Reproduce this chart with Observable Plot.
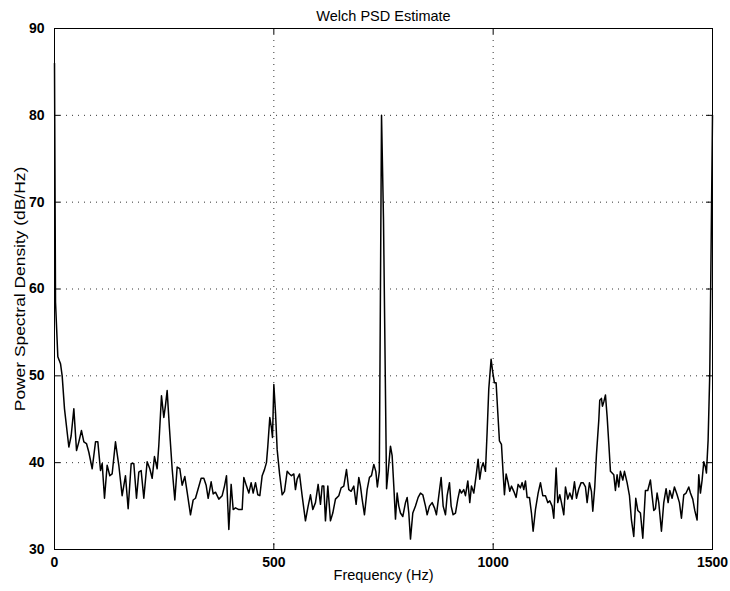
<!DOCTYPE html>
<html><head><meta charset="utf-8">
<script src="https://cdn.jsdelivr.net/npm/d3@7"></script>
<script src="https://cdn.jsdelivr.net/npm/@observablehq/plot@0.6"></script>
<style>body{margin:0;background:#fff} svg{display:block}</style>
</head><body><div id="chart"></div>
<script>
const title = "Welch PSD Estimate";
const xLabel = "Frequency (Hz)";
const yLabel = "Power Spectral Density (dB/Hz)";
const xTicks = [0, 500, 1000, 1500];
const yTicks = [30, 40, 50, 60, 70, 80, 90];

const freqs = [
0, 2.3, 7.6, 13.7, 17.5, 22.8, 32.7, 38.0, 44.1, 50.2, 55.5, 61.5, 66.9, 72.9, 78.3, 85.9, 93.5, 98.8,
104.9, 108.7, 114.0, 120.0, 126.1, 131.4, 139.0, 146.6, 154.2, 161.8, 167.9, 174.8, 180.8, 186.9, 192.2, 197.5,
203.6, 211.2, 217.3, 222.6, 227.9, 234.0, 237.8, 243.9, 249.2, 253.0, 256.8, 262.1, 268.2, 274.3, 279.6, 285.7,
291.0, 297.1, 302.4, 310.0, 316.1, 321.4, 327.5, 334.3, 340.4, 345.7, 350.3, 357.1, 361.7, 367.0, 374.6, 382.2,
387.5, 392.1, 397.4, 402.7, 407.3, 412.6, 420.2, 427.8, 431.6, 437.7, 443.0, 448.3, 452.9, 458.2, 463.5, 468.1,
473.4, 478.7, 483.2, 486.3, 490.8, 494.6, 496.9, 500.0, 503.8, 507.6, 512.9, 519.0, 524.3, 530.4, 535.7, 540.2,
545.6, 549.3, 553.1, 558.5, 564.5, 572.1, 578.2, 583.5, 588.9, 594.9, 601.0, 606.3, 610.1, 613.9, 617.7, 623.1,
629.1, 634.4, 640.5, 648.1, 653.4, 659.5, 665.6, 670.9, 676.2, 682.3, 687.6, 693.7, 697.5, 701.3, 706.6, 712.7,
718.0, 722.6, 727.9, 732.5, 736.0, 740.5, 745.5, 750.0, 757.0, 765.9, 769.7, 773.5, 777.3, 781.1, 784.9, 788.7,
794.0, 800.1, 803.9, 807.7, 811.5, 816.8, 822.9, 829.0, 834.3, 839.6, 845.7, 849.5, 854.8, 860.9, 866.2, 870.7,
876.1, 881.4, 886.0, 891.3, 895.1, 900.4, 904.2, 908.7, 914.1, 919.4, 923.9, 927.7, 933.0, 936.8, 942.2, 946.7,
950.5, 955.8, 961.9, 965.7, 969.5, 973.3, 977.1, 982.4, 986.2, 990.0, 995.3, 999.1, 1002.9, 1006.7, 1010.5, 1014.3,
1018.9, 1022.7, 1025.7, 1029.5, 1034.1, 1037.9, 1041.7, 1047.0, 1052.3, 1056.9, 1062.2, 1066.0, 1069.8, 1073.6, 1077.4, 1082.7,
1087.3, 1091.1, 1096.4, 1102.5, 1107.8, 1113.1, 1119.2, 1124.5, 1129.1, 1134.4, 1138.2, 1143.5, 1147.3, 1151.9, 1155.7, 1161.0,
1164.8, 1170.1, 1174.7, 1180.0, 1185.3, 1189.9, 1195.2, 1200.5, 1205.0, 1210.4, 1214.2, 1219.5, 1224.0, 1227.1, 1231.6, 1235.4,
1240.8, 1243.0, 1246.8, 1249.1, 1252.2, 1256.0, 1259.8, 1263.6, 1267.4, 1271.2, 1275.0, 1278.7, 1282.5, 1286.3, 1290.1, 1295.5,
1299.3, 1305.3, 1310.7, 1315.2, 1320.5, 1325.1, 1329.7, 1335.7, 1341.1, 1347.1, 1352.4, 1358.5, 1362.3, 1366.1, 1369.9, 1373.7,
1377.5, 1383.6, 1388.9, 1394.2, 1398.8, 1402.6, 1407.9, 1413.2, 1419.3, 1424.6, 1429.2, 1434.5, 1439.8, 1445.9, 1449.7, 1455.0,
1459.6, 1464.9, 1468.7, 1472.5, 1476.3, 1480.1, 1483.9, 1486.2, 1490.0, 1493.8, 1500
];

const psd = [
86, 58.5, 52.2, 51.4, 50.0, 46.2, 41.8, 43.1, 46.2, 41.4, 42.4, 43.7, 42.4, 42.2, 41.2, 39.3, 42.4, 42.4,
39.1, 39.9, 35.9, 39.7, 38.5, 38.7, 42.4, 39.7, 36.2, 38.5, 34.7, 39.9, 39.9, 35.9, 38.9, 39.1,
35.9, 40.1, 39.3, 38.2, 40.7, 39.3, 42.0, 47.7, 45.2, 46.6, 48.3, 43.9, 39.3, 35.7, 39.5, 39.3,
37.4, 38.4, 36.6, 34.0, 35.7, 35.9, 37.0, 38.2, 38.2, 37.4, 35.9, 37.8, 36.4, 36.6, 35.8, 36.2,
37.3, 38.5, 32.3, 37.5, 34.6, 34.8, 34.6, 34.6, 38.3, 37.3, 36.5, 37.7, 36.5, 37.7, 36.3, 36.2,
38.5, 39.2, 40.0, 41.9, 45.2, 44.0, 42.9, 49.0, 45.8, 41.5, 38.8, 36.3, 36.7, 39.0, 38.7, 38.5,
38.7, 36.9, 38.1, 38.7, 36.2, 33.3, 35.0, 36.3, 34.6, 35.4, 37.5, 35.2, 37.3, 37.3, 33.3, 37.3,
33.3, 34.2, 35.8, 36.2, 37.1, 37.3, 39.2, 36.9, 36.7, 37.3, 35.2, 38.3, 37.3, 35.8, 34.0, 36.9,
38.3, 38.5, 39.8, 39.0, 37.2, 39.0, 80.0, 68.0, 37.0, 41.9, 40.8, 37.3, 33.5, 36.5, 35.0, 34.2,
33.8, 35.4, 36.0, 34.2, 31.2, 34.2, 35.0, 36.0, 36.5, 36.3, 35.0, 34.0, 35.0, 35.4, 34.8, 34.0,
36.2, 38.3, 35.0, 34.0, 36.2, 37.7, 35.0, 34.0, 34.2, 35.8, 36.9, 36.5, 36.9, 36.2, 37.9, 35.4,
37.3, 36.5, 38.8, 40.4, 38.1, 39.4, 40.0, 39.0, 43.5, 48.5, 51.9, 50.4, 49.2, 49.2, 45.8, 42.5,
42.1, 38.8, 36.3, 38.7, 37.7, 36.7, 37.3, 36.7, 36.0, 37.5, 37.1, 37.7, 36.9, 37.9, 36.0, 36.0,
34.2, 32.1, 34.6, 36.5, 37.7, 36.2, 36.2, 35.4, 35.6, 35.0, 33.6, 39.4, 35.4, 36.3, 35.4, 34.0,
37.2, 35.8, 36.5, 35.8, 37.8, 35.9, 37.0, 37.7, 37.7, 37.2, 35.4, 37.7, 36.7, 34.4, 37.2, 40.9,
44.9, 47.2, 47.4, 46.5, 47.0, 47.8, 45.3, 42.2, 39.0, 38.8, 38.6, 36.8, 38.6, 37.2, 39.0, 38.0,
39.0, 37.7, 36.2, 33.4, 31.5, 35.9, 34.5, 34.2, 31.3, 36.8, 36.8, 38.0, 36.2, 34.5, 34.7, 36.5,
35.4, 32.1, 35.4, 37.0, 35.4, 36.8, 35.9, 37.2, 36.3, 35.4, 33.6, 36.3, 36.5, 37.2, 36.5, 35.8,
34.5, 33.4, 38.6, 36.5, 38.0, 40.1, 39.5, 38.8, 42.6, 50.3, 80.0
];

const data = freqs.map((f, i) => ({f, p: psd[i]}));
const font = "'Liberation Sans', Arial, Helvetica, sans-serif";
const grid = {stroke: "#000", strokeOpacity: 0.8, strokeWidth: 1, strokeDasharray: "1,5"};
const fmt = d => String(d);

const chart = Plot.plot({
  width: 730, height: 591,
  marginLeft: 54, marginRight: 18, marginTop: 28, marginBottom: 42,
  style: {fontFamily: font, fontSize: "14px", color: "#000", background: "#fff"},
  x: {domain: [0, 1500]},
  y: {domain: [30, 90]},
  marks: [
    Plot.gridX(xTicks.slice(1, -1), grid),
    Plot.gridY(yTicks.slice(1, -1), grid),
    Plot.frame({stroke: "#000", strokeWidth: 1}),
    // inward tick marks on all four sides
    Plot.tickX(xTicks, {x: d => d, stroke: "#000", insetTop: 515}),
    Plot.tickX(xTicks, {x: d => d, stroke: "#000", insetBottom: 515}),
    Plot.tickY(yTicks, {y: d => d, stroke: "#000", insetRight: 652}),
    Plot.tickY(yTicks, {y: d => d, stroke: "#000", insetLeft: 652}),
    // tick labels
    Plot.axisX(xTicks, {anchor: "bottom", tickSize: 0, tickPadding: 8, tickFormat: fmt, label: null, fontSize: 14, fontWeight: "bold"}),
    Plot.axisY(yTicks, {anchor: "left", tickSize: 0, tickPadding: 10, tickFormat: fmt, label: null, fontSize: 14, fontWeight: "bold"}),
    Plot.line(data, {x: "f", y: "p", stroke: "#000", strokeWidth: 1.5}),
    Plot.text([title], {frameAnchor: "top", dy: -18, fontSize: 14.5}),
    Plot.text([xLabel], {frameAnchor: "bottom", dy: 30, fontSize: 14.5}),
    Plot.text([yLabel], {frameAnchor: "left", textAnchor: "middle", rotate: -90, dx: -34, fontSize: 14.5})
  ]
});

// the reference's rotated label is stretched along its length
d3.select(chart).selectAll("text")
  .filter(function() { return this.textContent === yLabel; })
  .each(function() {
    const t = this.getAttribute("transform") || "";
    this.setAttribute("transform", t + " scale(1.2,1)");
  });

document.getElementById("chart").appendChild(chart);
</script>
</body></html>
